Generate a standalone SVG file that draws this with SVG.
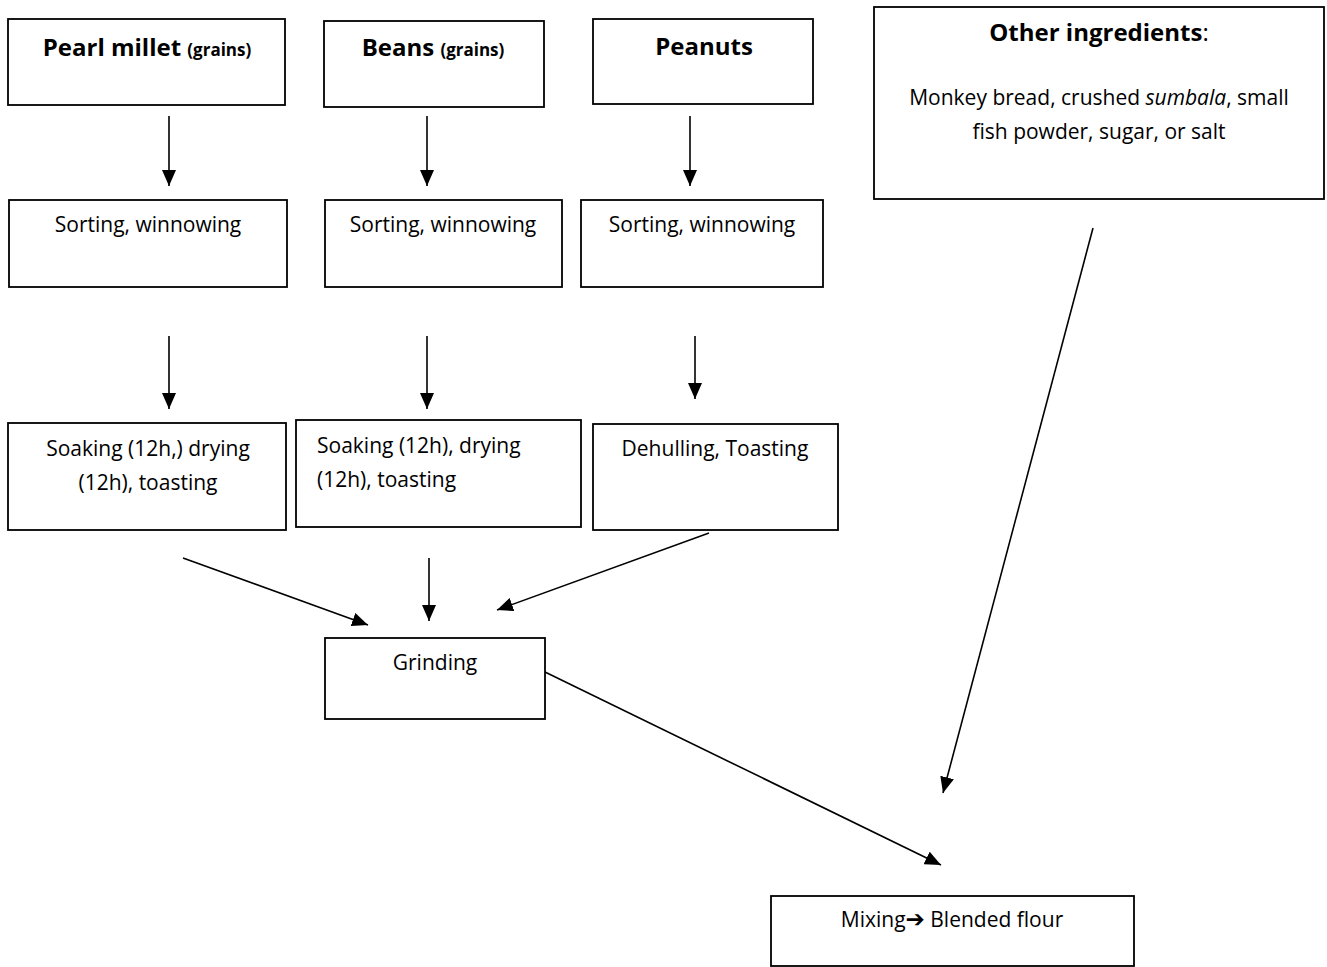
<svg xmlns="http://www.w3.org/2000/svg" width="1327" height="967" viewBox="0 0 1327 967">
<defs>
<style>
.box{fill:#fff;stroke:#000;stroke-width:1.8}
.t{font-family:"Open Sans","Liberation Sans",sans-serif;font-size:21px;fill:#000;text-anchor:middle}
.tl{font-family:"Open Sans","Liberation Sans",sans-serif;font-size:21px;fill:#000}
.h{font-family:"Open Sans","Liberation Sans",sans-serif;font-size:24px;font-weight:bold;fill:#000;text-anchor:middle}
.s{font-size:17px}
.c{stroke:#000;stroke-width:1.6;fill:none;marker-end:url(#ah)}
</style>
<marker id="ah" viewBox="0 0 16 14" refX="16" refY="7" markerWidth="16" markerHeight="14" markerUnits="userSpaceOnUse" orient="auto">
<path d="M0,0 L16,7 L0,14 Z" fill="#000"/>
</marker>
</defs>
<rect width="1327" height="967" fill="#fff"/>
<g id="pearl"><rect class="box" x="8" y="19" width="277" height="86"/><text class="h" x="147" y="56">Pearl millet <tspan class="s">(grains)</tspan></text></g>
<g id="beans"><rect class="box" x="324" y="21" width="220" height="86"/><text class="h" x="433" y="56">Beans <tspan class="s">(grains)</tspan></text></g>
<g id="peanuts"><rect class="box" x="593" y="19" width="220" height="85"/><text class="h" x="704" y="55">Peanuts</text></g>
<g id="other"><rect class="box" x="874" y="7" width="450" height="192"/><text class="h" x="1099" y="41">Other ingredients<tspan font-weight="normal">:</tspan></text><text class="t" x="1099" y="105">Monkey bread, crushed <tspan font-style="italic">sumbala</tspan>, small</text><text class="t" x="1099" y="139">fish powder, sugar, or salt</text></g>
<g id="sort1"><rect class="box" x="9" y="200" width="278" height="87"/><text class="t" x="148" y="232">Sorting, winnowing</text></g>
<g id="sort2"><rect class="box" x="325" y="200" width="237" height="87"/><text class="t" x="443" y="232">Sorting, winnowing</text></g>
<g id="sort3"><rect class="box" x="581" y="200" width="242" height="87"/><text class="t" x="702" y="232">Sorting, winnowing</text></g>
<g id="soak1"><rect class="box" x="8" y="423" width="278" height="107"/><text class="t" x="148" y="456">Soaking (12h,) drying</text><text class="t" x="148" y="490">(12h), toasting</text></g>
<g id="soak2"><rect class="box" x="296" y="420" width="285" height="107"/><text class="tl" x="317" y="453">Soaking (12h), drying</text><text class="tl" x="317" y="487">(12h), toasting</text></g>
<g id="dehull"><rect class="box" x="593" y="424" width="245" height="106"/><text class="t" x="715" y="456">Dehulling, Toasting</text></g>
<g id="grinding"><rect class="box" x="325" y="638" width="220" height="81"/><text class="t" x="435" y="670">Grinding</text></g>
<g id="mixing"><rect class="box" x="771" y="896" width="363" height="70"/><text class="t" x="952" y="927">Mixing<tspan font-family="DejaVu Sans" font-weight="bold" font-size="23">➔</tspan> Blended flour</text></g>
<g id="connectors">
<line class="c" x1="169" y1="116" x2="169" y2="186"/>
<line class="c" x1="427" y1="116" x2="427" y2="186"/>
<line class="c" x1="690" y1="116" x2="690" y2="186"/>
<line class="c" x1="169" y1="336" x2="169" y2="409"/>
<line class="c" x1="427" y1="336" x2="427" y2="409"/>
<line class="c" x1="695" y1="336" x2="695" y2="399"/>
<line class="c" x1="183" y1="558" x2="368" y2="625"/>
<line class="c" x1="429" y1="558" x2="429" y2="621"/>
<line class="c" x1="709" y1="533" x2="497" y2="610"/>
<line class="c" x1="1093" y1="228" x2="943" y2="793"/>
<line class="c" x1="545" y1="672" x2="941" y2="865"/>
</g>
</svg>
